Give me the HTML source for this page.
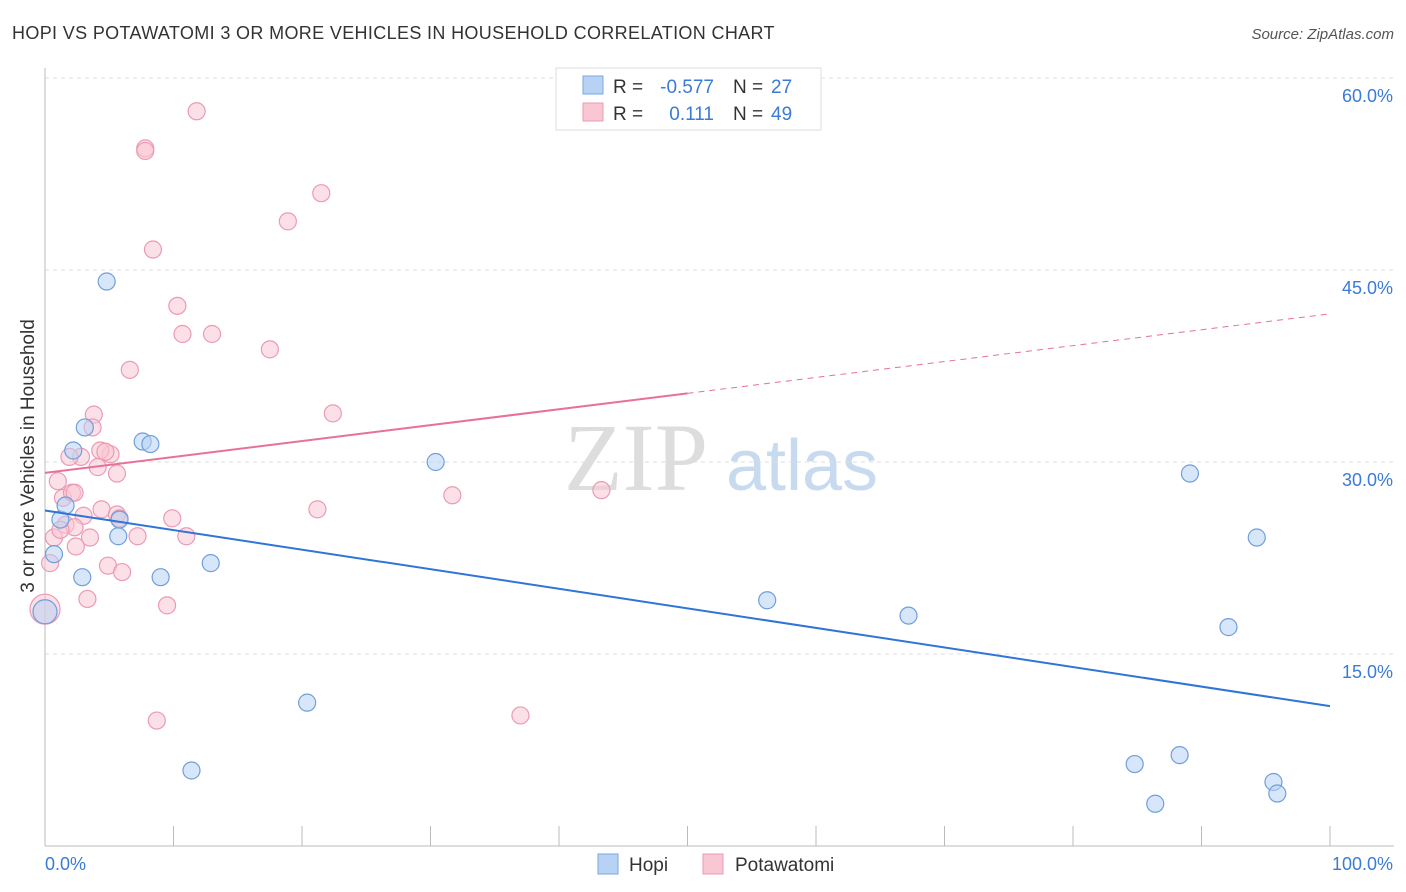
<!DOCTYPE html>
<html><head><meta charset="utf-8"><style>
body{margin:0;background:#fff;font-family:"Liberation Sans",sans-serif}
svg{display:block}
</style></head><body>
<svg id="c" width="1406" height="892" xmlns="http://www.w3.org/2000/svg">
<text x="12" y="39" font-size="18" letter-spacing="0.35" fill="#333">HOPI VS POTAWATOMI 3 OR MORE VEHICLES IN HOUSEHOLD CORRELATION CHART</text>
<text x="1394" y="39" font-size="15" fill="#555" font-style="italic" text-anchor="end">Source: ZipAtlas.com</text>
<text x="34" y="456" font-size="19" fill="#333" text-anchor="middle" transform="rotate(-90 34 456)">3 or more Vehicles in Household</text>
<text x="636" y="490" font-size="96" fill="#ddd" font-family="Liberation Serif,serif" text-anchor="middle">ZIP</text>
<text x="802" y="490" font-size="72" fill="#c8daf0" text-anchor="middle">atlas</text>
<g id="grid"></g><g id="marks"></g>
<g>
<rect x="556" y="68" width="265" height="62" fill="#fff" stroke="#ddd"/>
<rect x="583" y="76" width="20" height="18" fill="#b8d2f4" stroke="#7aa7e0"/>
<rect x="583" y="103" width="20" height="18" fill="#f9c6d4" stroke="#ec9ab3"/>
<text x="613" y="93" font-size="19" fill="#333">R =</text>
<text x="714" y="93" font-size="19" fill="#3a7bd5" text-anchor="end">-0.577</text>
<text x="733" y="93" font-size="19" fill="#333">N =</text>
<text x="771" y="93" font-size="19" fill="#3a7bd5">27</text>
<text x="613" y="120" font-size="19" fill="#333">R =</text>
<text x="714" y="120" font-size="19" fill="#3a7bd5" text-anchor="end">0.111</text>
<text x="733" y="120" font-size="19" fill="#333">N =</text>
<text x="771" y="120" font-size="19" fill="#3a7bd5">49</text>
</g>
<g>
<rect x="598" y="854" width="20" height="20" fill="#b8d2f4" stroke="#7aa7e0"/>
<text x="629" y="871" font-size="19" fill="#333">Hopi</text>
<rect x="703" y="854" width="20" height="20" fill="#f9c6d4" stroke="#ec9ab3"/>
<text x="735" y="871" font-size="19" fill="#333">Potawatomi</text>
</g>
</svg>
<script>
const yTicks=[15,30,45,60];
const hopiX=[4.8,2.2,3.1,7.6,8.2,1.2,1.6,0.7,2.9,5.7,5.8,9.0,12.9,20.4,11.4,30.4,56.2,67.2,89.1,94.3,92.1,84.8,88.3,86.4,95.6,95.9,0];
const hopiY=[44.1,30.9,32.7,31.6,31.4,25.5,26.6,22.8,21.0,24.2,25.5,21.0,22.1,11.2,5.9,30.0,19.2,18.0,29.1,24.1,17.1,6.4,7.1,3.3,5.0,4.1,18.3];
const potX=[11.8,7.8,7.8,21.5,18.9,8.4,10.3,10.7,13.0,17.5,6.6,3.8,3.7,22.4,2.8,1.9,5.1,4.3,4.7,4.1,5.6,1.0,1.4,2.1,3.0,4.4,5.6,5.8,9.9,11.0,7.2,3.5,2.4,0.7,1.6,2.3,0.4,4.9,6.0,3.3,9.5,8.7,37.0,31.7,43.3,21.2,0,1.2,2.3];
const potY=[57.4,54.5,54.3,51.0,48.8,46.6,42.2,40.0,40.0,38.8,37.2,33.7,32.7,33.8,30.4,30.4,30.6,30.9,30.8,29.6,29.1,28.5,27.2,27.6,25.8,26.3,25.9,25.6,25.6,24.2,24.2,24.1,23.4,24.1,25.1,24.9,22.1,21.9,21.4,19.3,18.8,9.8,10.2,27.4,27.8,26.3,18.5,24.7,27.6];
const X=v=>45+v*12.85, Y=v=>846-v*12.8;
const ns="http://www.w3.org/2000/svg";
function mk(t,a,p){const e=document.createElementNS(ns,t);for(const k in a)e.setAttribute(k,a[k]);(p||document.getElementById('marks')).appendChild(e);return e;}
const g=document.getElementById('grid');
yTicks.forEach(t=>{
 const l=mk('line',{x1:45,x2:1394,y1:Y(t),y2:Y(t),stroke:'#ddd','stroke-dasharray':'4 4'},g);
 
 const s=mk('text',{x:1393,y:Y(t)+24,'font-size':18,fill:'#3a7bd5','text-anchor':'end'},g);s.textContent=t.toFixed(1)+'%';
 
});
const ax=mk('line',{x1:45,x2:1394,y1:846,y2:846,stroke:'#bbb'},g);

const ay=mk('line',{x1:45,x2:45,y1:68,y2:846,stroke:'#bbb'},g);

for(let i=1;i<=10;i++){const tk=mk('line',{x1:X(i*10),x2:X(i*10),y1:826,y2:846,stroke:'#bbb'},g);
 }
const x0=mk('text',{x:45,y:870,'font-size':18,fill:'#3a7bd5'},g);x0.textContent='0.0%';

const x1=mk('text',{x:1393,y:870,'font-size':18,fill:'#3a7bd5','text-anchor':'end'},g);x1.textContent='100.0%';

function pt(x,y,f,s,name,r){const c=mk('circle',{cx:X(x),cy:Y(y),r:r,fill:f,'fill-opacity':0.55,stroke:s,'stroke-width':1.2});
 }
potX.forEach((x,i)=>pt(x,potY[i],'#f9c6d4','#ec9ab3','potawatomi-point',x===0?15:8.5));
hopiX.forEach((x,i)=>pt(x,hopiY[i],'#b8d2f4','#6f9fdc','hopi-point',x===0?12:8.5));
function fit(xs,ys){const n=xs.length,mx=xs.reduce((a,b)=>a+b)/n,my=ys.reduce((a,b)=>a+b)/n;let sxy=0,sxx=0;xs.forEach((x,i)=>{sxy+=(x-mx)*(ys[i]-my);sxx+=(x-mx)**2});const b=sxy/sxx;return [my-b*mx,b];}
const [ha,hb]=fit(hopiX,hopiY);
const hl=mk('line',{x1:X(0),y1:Y(ha),x2:X(100),y2:Y(ha+hb*100),stroke:'#2f74d6','stroke-width':2});

const [pa,pb]=fit(potX,potY);
const pl=mk('line',{x1:X(0),y1:Y(pa),x2:X(50),y2:Y(pa+pb*50),stroke:'#e8709a','stroke-width':2});

const pd=mk('line',{x1:X(50),y1:Y(pa+pb*50),x2:X(100),y2:Y(pa+pb*100),stroke:'#e8709a','stroke-width':1,'stroke-dasharray':'6 5'});

</script>
</body></html>
